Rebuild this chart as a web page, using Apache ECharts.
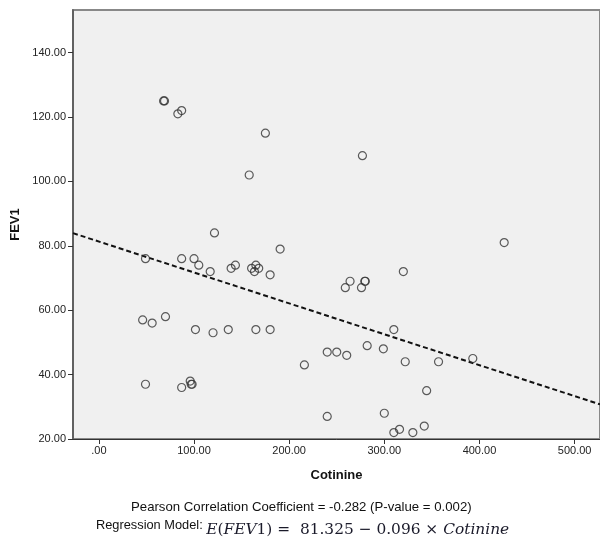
<!DOCTYPE html>
<html>
<head>
<meta charset="utf-8">
<script src="https://cdn.jsdelivr.net/npm/echarts@6/dist/echarts.min.js"></script>
<style>html,body{margin:0;padding:0;background:#fff}#c{width:600px;height:540px}</style>
</head>
<body>
<div id="c"></div>
<script>
// Data
const cotinine = [68, 69, 83, 87, 175, 158, 277, 121.5, 49, 87, 100, 105, 117, 139, 143.5, 160.5, 165, 163.5, 168, 180, 190.5,
  46, 56, 70, 101.5, 120, 136, 165, 180, 49, 87, 96, 98, 97,
  426, 320, 264, 259, 280, 279.5, 276, 310, 282, 299, 240, 250, 260.5, 216, 322, 357, 393, 344.5, 240, 300, 310, 316, 330, 342];
const fev1 = [125, 125, 121, 122, 115, 102, 108, 84, 76, 76, 76, 74, 72, 73, 74, 73, 74, 72, 73, 71, 79,
  57, 56, 58, 54, 53, 54, 54, 54, 37, 36, 38, 37, 37,
  81, 72, 69, 67, 69, 69, 67, 54, 49, 48, 47, 47, 46, 43, 44, 44, 45, 35, 27, 28, 22, 23, 22, 24];
const xTicks = [0, 100, 200, 300, 400, 500];
const yTicks = [20, 40, 60, 80, 100, 120, 140];
const intercept = 81.325;
const slope = -0.096;
const xRange = [-27.2, 526.7];
const yRange = [20, 153.25];
const pearsonText = 'Pearson Correlation Coefficient = -0.282 (P-value = 0.002)';

const points = cotinine.map((x, i) => [x, fev1[i]]);
const regLine = xRange.map(x => [x, intercept + slope * x]);
const fmt = v => { const s = Number(v).toFixed(2); return s === '0.00' ? '.00' : s; };

const chart = echarts.init(document.getElementById('c'), null, {renderer: 'canvas'});
chart.setOption({
  animation: false,
  backgroundColor: '#ffffff',
  grid: {left: 73, top: 10, right: -2, bottom: 101, show: true, backgroundColor: '#f0f0f0', borderColor: '#888', borderWidth: 2},
  xAxis: {
    type: 'value', min: xRange[0], max: xRange[1],
    name: 'Cotinine', nameLocation: 'middle', nameGap: 30,
    nameTextStyle: {fontFamily: 'Liberation Sans, Arial, sans-serif', fontSize: 13, fontWeight: 'bold', color: '#111'},
    axisLine: {onZero: false, lineStyle: {color: '#333', width: 1}},
    axisTick: {show: true, length: 5, lineStyle: {color: '#333'}, customValues: xTicks},
    axisLabel: {customValues: xTicks, formatter: fmt, fontFamily: 'Liberation Sans, Arial, sans-serif', fontSize: 11, color: '#222', margin: 6},
    splitLine: {show: false}
  },
  yAxis: {
    type: 'value', min: yRange[0], max: yRange[1],
    name: 'FEV1', nameLocation: 'middle', nameGap: 48, nameRotate: 90,
    nameTextStyle: {fontFamily: 'Liberation Sans, Arial, sans-serif', fontSize: 13, fontWeight: 'bold', color: '#111'},
    axisLine: {show: true, onZero: false, lineStyle: {color: '#555', width: 1.5}},
    axisTick: {show: true, length: 5, lineStyle: {color: '#333'}, customValues: yTicks},
    axisLabel: {customValues: yTicks, formatter: fmt, fontFamily: 'Liberation Sans, Arial, sans-serif', fontSize: 11, color: '#222', margin: 7},
    splitLine: {show: false}
  },
  series: [
    {
      type: 'line', data: regLine, symbol: 'none', silent: true,
      lineStyle: {color: '#111', width: 2, type: [5, 3]}, z: 1
    },
    {
      type: 'scatter', data: points, symbol: 'circle', symbolSize: 8,
      itemStyle: {color: 'rgba(0,0,0,0)', borderColor: '#333', borderWidth: 1.2}, z: 2
    }
  ],
  graphic: [
    {type: 'text', left: 131, top: 501, style: {text: pearsonText, font: '13.2px "Liberation Sans", Arial, sans-serif', fill: '#111'}},
    {type: 'text', left: 96, top: 519, style: {
      text: '{a|Regression Model: }{i|E}{r|(}{i|FEV}{r|1) =  81.325 − 0.096 × }{i|Cotinine}',
      rich: {
        a: {fontFamily: 'Liberation Sans, Arial, sans-serif', fontSize: 12.8, fill: '#111', verticalAlign: 'bottom', padding: [0, 0, 5, 0]},
        i: {fontFamily: 'DejaVu Serif, serif', fontStyle: 'italic', fontSize: 15.4, fill: '#1a1a2a', verticalAlign: 'bottom'},
        r: {fontFamily: 'DejaVu Serif, serif', fontSize: 15.4, fill: '#1a1a2a', verticalAlign: 'bottom'}
      }
    }}
  ]
});
</script>
</body>
</html>
